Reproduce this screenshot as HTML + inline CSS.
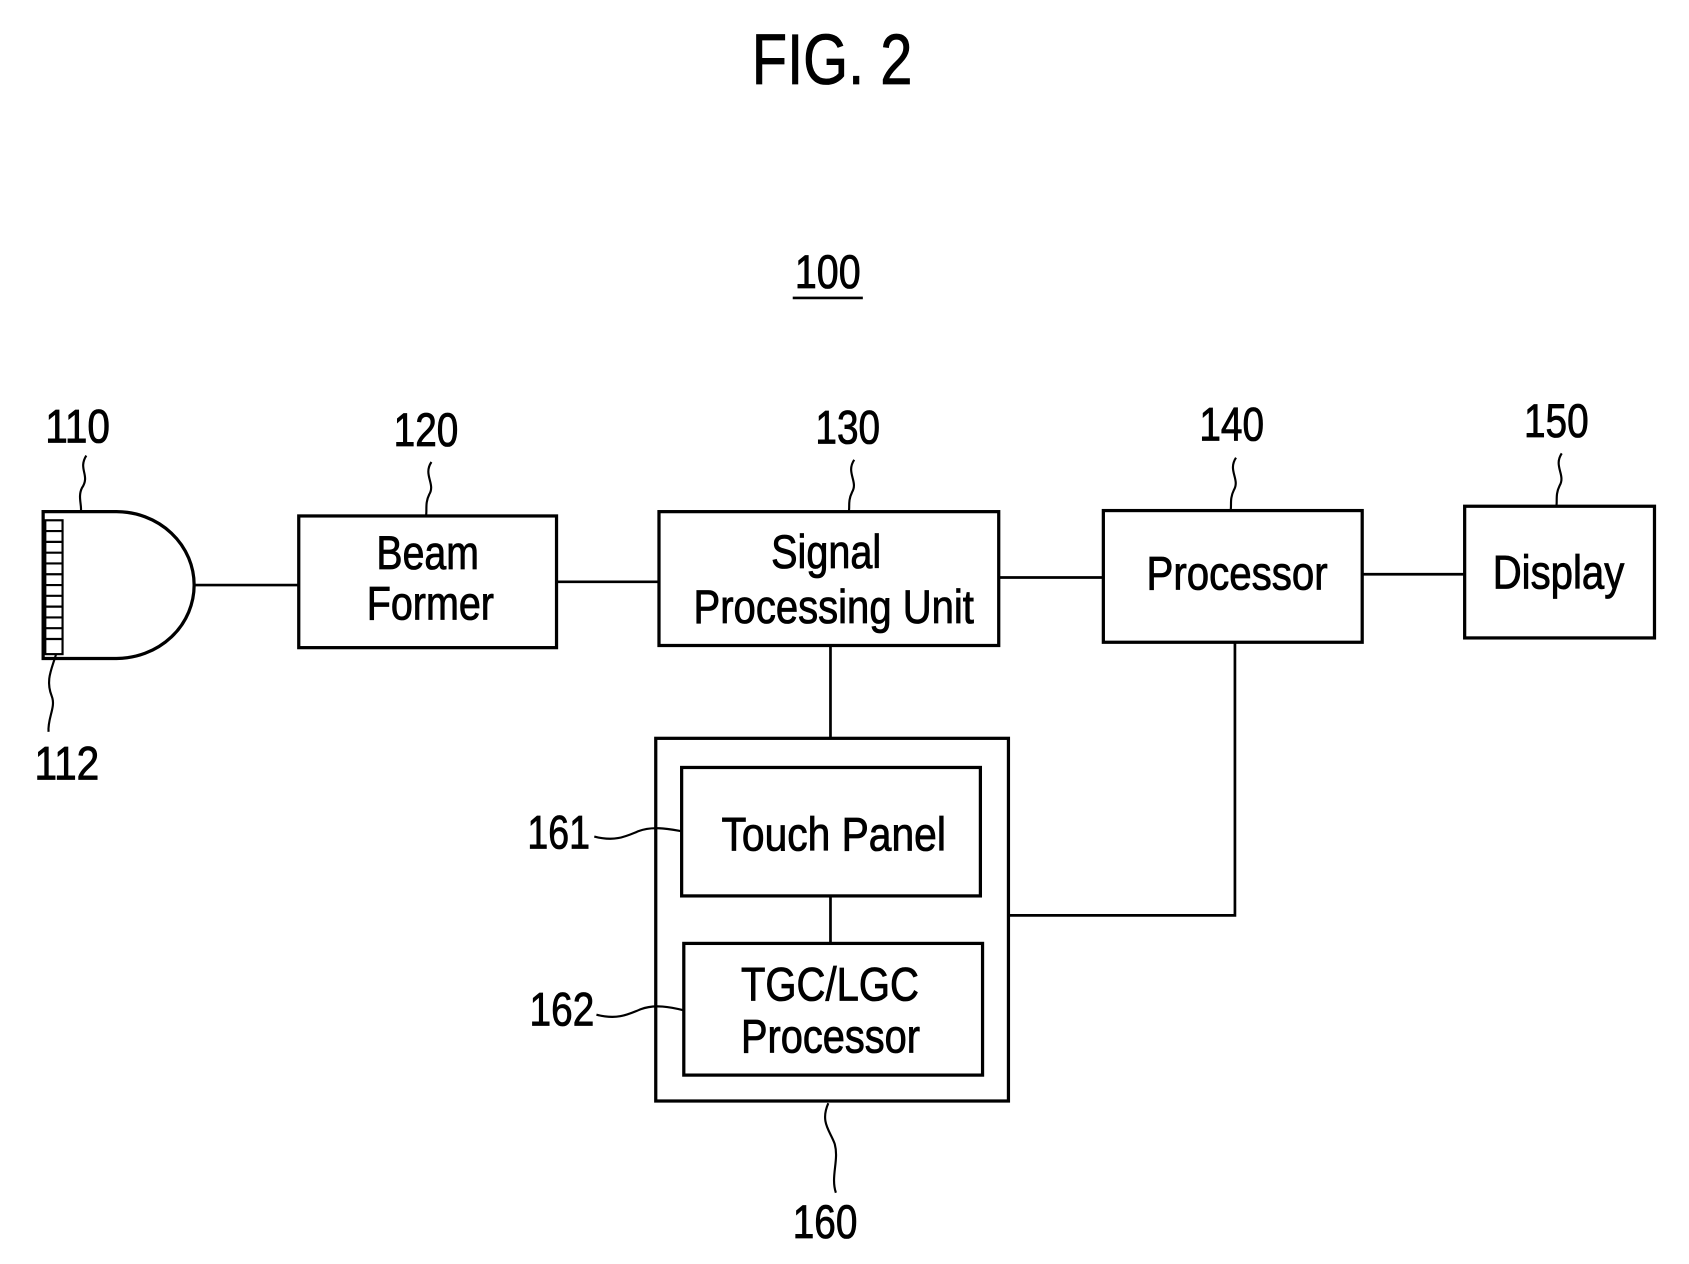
<!DOCTYPE html>
<html><head><style>html,body{margin:0;padding:0;background:#fff}svg{display:block}</style></head>
<body>
<svg width="1689" height="1264" viewBox="0 0 1566 1171" preserveAspectRatio="none" xmlns="http://www.w3.org/2000/svg" font-family="Liberation Sans, sans-serif" fill="#000">
<g fill="none" stroke="#000" stroke-width="3">
<path d="M40,474 H108 A72,68 0 0 1 108,610 H40 Z"/>
<rect x="277" y="478" width="239" height="122"/>
<rect x="611" y="474" width="315" height="124"/>
<rect x="1023" y="473" width="240" height="122"/>
<rect x="1358" y="469" width="176" height="122"/>
<rect x="608" y="684" width="327" height="336"/>
<rect x="632" y="711" width="277" height="119"/>
<rect x="634" y="874" width="277" height="122"/>
<g stroke-width="2.5">
<line x1="180" y1="542" x2="277" y2="542"/>
<line x1="516" y1="539" x2="611" y2="539"/>
<line x1="926" y1="535" x2="1023" y2="535"/>
<line x1="1263" y1="532" x2="1358" y2="532"/>
<line x1="770" y1="598" x2="770" y2="684"/>
<line x1="770" y1="830" x2="770" y2="874"/>
<polyline points="1145,595 1145,848 935,848"/>
<line x1="735" y1="276" x2="800" y2="276"/>
</g>
<g stroke-width="2">
<rect x="42" y="482" width="16" height="124"/>
<path d="M42,492h16M42,502h16M42,512h16M42,522h16M42,532h16M42,542h16M42,552h16M42,562h16M42,572h16M42,582h16M42,592h16"/>
<path d="M80,422 C72,435 84,440 76,452 C72,460 76,468 75,474"/>
<path d="M400,428 C392,440 404,448 398,458 C394,466 396,472 395,478"/>
<path d="M792,426 C784,438 796,446 790,456 C786,464 788,470 787,474"/>
<path d="M1146,424 C1138,436 1150,444 1144,454 C1140,462 1142,468 1141,473"/>
<path d="M1448,420 C1440,432 1452,440 1446,450 C1442,458 1444,464 1443,469"/>
<path d="M52,606 C48,620 42,630 48,645 C52,655 44,665 45,678"/>
<path d="M551,775 C570,780 580,775 592,770 C605,765 620,768 632,770"/>
<path d="M553,940 C572,945 582,940 594,935 C607,930 622,933 634,936"/>
<path d="M768,1022 C760,1040 770,1048 774,1060 C778,1075 770,1090 775,1105"/>
</g>
</g>
<g font-size="44" stroke="#000" stroke-width="0.8">
<text x="697" y="78" font-size="66" textLength="149" lengthAdjust="spacingAndGlyphs">FIG. 2</text>
<text x="737" y="267" textLength="61" lengthAdjust="spacingAndGlyphs">100</text>
<text x="42" y="410" textLength="60" lengthAdjust="spacingAndGlyphs">110</text>
<text x="365" y="413" textLength="60" lengthAdjust="spacingAndGlyphs">120</text>
<text x="756" y="411" textLength="60" lengthAdjust="spacingAndGlyphs">130</text>
<text x="1112" y="408" textLength="60" lengthAdjust="spacingAndGlyphs">140</text>
<text x="1413" y="405" textLength="60" lengthAdjust="spacingAndGlyphs">150</text>
<text x="32" y="722" textLength="60" lengthAdjust="spacingAndGlyphs">112</text>
<text x="489" y="786" textLength="58" lengthAdjust="spacingAndGlyphs">161</text>
<text x="491" y="950" textLength="60" lengthAdjust="spacingAndGlyphs">162</text>
<text x="735" y="1147" textLength="60" lengthAdjust="spacingAndGlyphs">160</text>
<text x="349" y="527" textLength="95" lengthAdjust="spacingAndGlyphs">Beam</text>
<text x="340" y="574" textLength="118" lengthAdjust="spacingAndGlyphs">Former</text>
<text x="715" y="526" textLength="102" lengthAdjust="spacingAndGlyphs">Signal</text>
<text x="643" y="577" textLength="260" lengthAdjust="spacingAndGlyphs">Processing Unit</text>
<text x="1063" y="546" textLength="168" lengthAdjust="spacingAndGlyphs">Processor</text>
<text x="1384" y="545" textLength="122" lengthAdjust="spacingAndGlyphs">Display</text>
<text x="669" y="788" textLength="208" lengthAdjust="spacingAndGlyphs">Touch Panel</text>
<text x="687" y="927" textLength="165" lengthAdjust="spacingAndGlyphs">TGC/LGC</text>
<text x="687" y="975" textLength="166" lengthAdjust="spacingAndGlyphs">Processor</text>
</g>
</svg>
</body></html>
